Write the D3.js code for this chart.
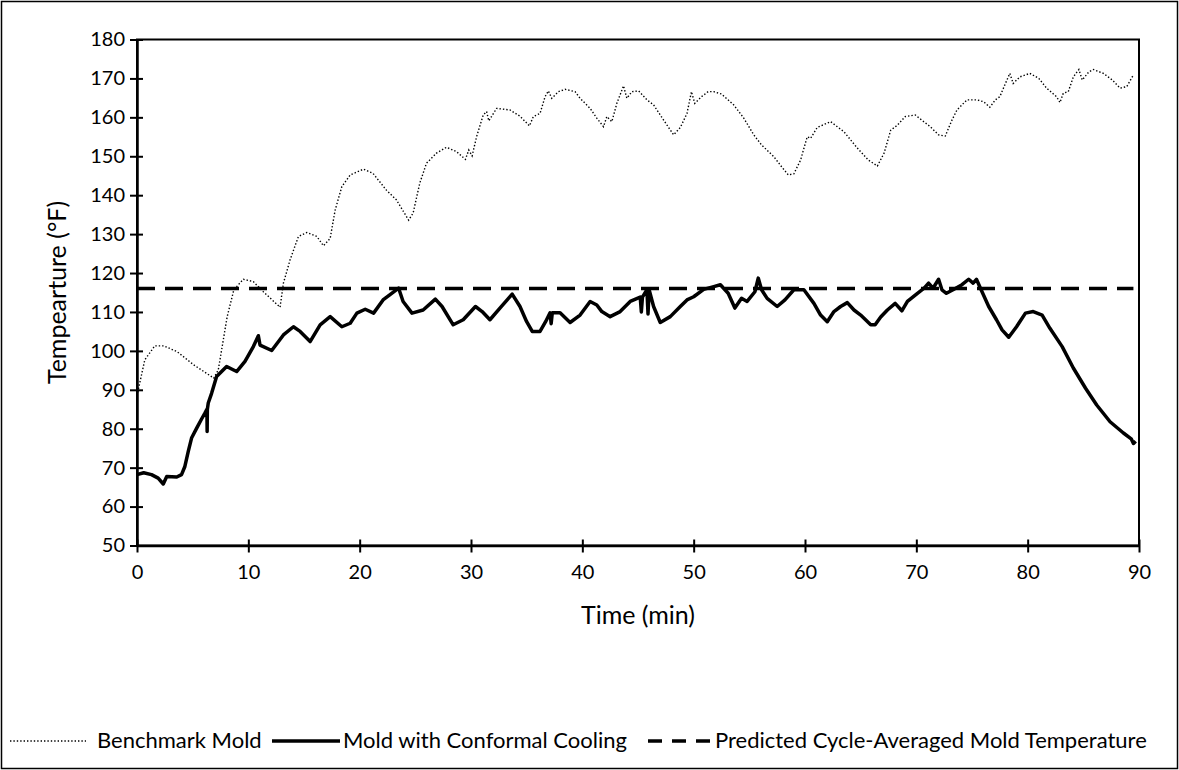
<!DOCTYPE html>
<html lang="en">
  <head>
    <meta charset="utf-8">
    <title>Mold temperature</title>
    <style>
      body { margin: 0; background: #fff; }
      svg text { font-family: Lato, "Open Sans", sans-serif; fill: #000; }
    </style>
  </head>
  <body>
    <svg class="chart"></svg>
    <script src="https://d3js.org/d3.v7.min.js"></script>
    <script>
    // time (min) / temperature (°F)
    const benchTime = [0, 0.7, 1.6, 2.4, 3.6, 5.1, 6.9, 7.3, 8.1, 8.7, 9.55, 10.45, 11.35, 12.85, 13.15, 13.75, 14.5, 15.25, 16.15, 16.75, 17.35, 17.8, 18.4, 19.15, 20.35, 21.2, 22.4, 23.3, 24.4, 24.8, 25.4, 26.0, 26.9, 27.8, 28.7, 29.5, 29.8, 30.1, 30.5, 31.1, 31.4, 31.6, 32.3, 33.5, 34.4, 35.25, 35.6, 36.2, 36.65, 36.95, 37.25, 37.85, 38.45, 39.35, 39.8, 40.7, 41.3, 41.9, 42.2, 42.65, 43.1, 43.7, 44.0, 44.45, 45.05, 45.8, 46.4, 47.3, 48.2, 48.8, 49.4, 49.8, 50.1, 50.7, 51.3, 51.8, 52.5, 53.6, 54.5, 55.4, 56.1, 57.2, 57.9, 58.5, 59.0, 59.6, 60.2, 60.5, 61.1, 62.3, 63.5, 64.7, 65.7, 66.5, 67.1, 67.7, 68.3, 69.0, 69.9, 71.25, 72.0, 72.6, 73.2, 73.65, 74.55, 75.45, 76.05, 76.6, 77.1, 77.5, 78.0, 78.4, 78.7, 79.3, 80.2, 81.0, 81.7, 82.6, 82.9, 83.2, 83.65, 84.1, 84.6, 84.9, 85.5, 85.9, 86.8, 87.6, 88.3, 88.9, 89.5];
    const benchTemp = [88.5, 97.7, 101.3, 101.3, 99.8, 96.4, 93, 95.1, 108.8, 115.7, 118.4, 117.8, 115.2, 111.2, 117.4, 123.4, 129.4, 130.4, 129.4, 127, 128.9, 136.2, 142.2, 145.2, 146.7, 145.6, 141.3, 138.8, 133.6, 135.4, 143.1, 148.2, 150.8, 152.3, 151.2, 149.2, 151.6, 150.1, 155, 160.6, 161.5, 159.1, 162.3, 161.9, 160.3, 157.8, 160.2, 161, 165.3, 166.8, 164.9, 166.6, 167.2, 166.6, 164.9, 162.3, 159.8, 157.6, 160.2, 158.9, 163.6, 168.1, 164.9, 166.6, 166.8, 164.5, 163.2, 159.3, 155.5, 157.4, 161, 166.6, 163.6, 165.3, 166.6, 166.6, 166, 163.2, 159.8, 155.5, 152.9, 149.9, 147.3, 145.2, 145.5, 149, 155, 154.6, 157.4, 158.9, 156.3, 152.1, 149, 147.5, 150.8, 156.7, 158, 160.2, 160.6, 157.6, 155.5, 155.2, 159.3, 161.9, 164.5, 164.5, 164, 162.6, 164.5, 165.3, 168.7, 171.3, 168.7, 170.4, 171.3, 170, 167.5, 165.3, 163.8, 166.2, 166.6, 170.4, 172.3, 169.6, 171.7, 172.3, 171.3, 169.6, 167.5, 167.9, 170.9];

    const coolTime = [0, 0.6, 1.3, 1.9, 2.36, 2.67, 3.57, 4.0, 4.3, 4.6, 4.9, 5.35, 5.8, 6.1, 6.28, 6.3, 6.32, 6.4, 6.7, 7.15, 8.05, 8.95, 9.7, 10.45, 10.9, 11.05, 12.1, 13.15, 14.05, 14.65, 15.55, 16.45, 17.35, 18.4, 19.15, 19.75, 20.5, 21.25, 22.1, 22.7, 23.5, 23.9, 24.7, 25.7, 26.8, 27.4, 28.4, 29.3, 30.4, 31.0, 31.7, 32.6, 33.7, 34.4, 35.0, 35.5, 36.2, 36.7, 37.1, 37.2, 37.3, 38.0, 38.9, 39.8, 40.7, 41.3, 41.75, 42.5, 43.4, 44.3, 45.2, 45.3, 45.4, 45.8, 45.9, 46.0, 46.4, 47.0, 47.9, 48.8, 49.4, 50.0, 50.9, 51.8, 52.4, 53.1, 53.7, 54.3, 54.8, 55.5, 55.8, 56.1, 56.6, 57.5, 58.2, 59.0, 59.9, 60.8, 61.4, 62.0, 62.6, 63.2, 63.8, 64.4, 65.0, 65.9, 66.3, 66.8, 67.4, 68.1, 68.7, 69.2, 70.1, 70.7, 71.1, 71.5, 72.0, 72.3, 72.7, 73.3, 74.1, 74.7, 75.1, 75.4, 75.9, 76.5, 77.2, 77.7, 78.3, 79.0, 79.8, 80.5, 81.3, 82.0, 83.1, 84.1, 85.2, 86.2, 87.4, 88.6, 89.3, 89.5, 89.7];
    const coolTemp = [68.2, 68.7, 68.2, 67.3, 65.8, 67.7, 67.6, 68.2, 70.3, 74.1, 77.6, 80.1, 82.5, 84, 85, 79.3, 85, 86.6, 89.1, 93.4, 96, 94.7, 97.3, 101.1, 103.9, 101.5, 100.1, 104.1, 106.2, 105, 102.4, 106.7, 108.8, 106.2, 107.1, 109.7, 110.7, 109.7, 113.1, 114.4, 116.1, 112.7, 109.7, 110.5, 113.3, 111.4, 106.7, 108, 111.4, 110.1, 108, 111, 114.6, 111.4, 107.5, 105, 105, 107.5, 109.8, 107, 109.8, 109.8, 107.3, 109.2, 112.7, 111.8, 110.1, 108.8, 110.1, 112.7, 113.8, 110, 113.8, 115.7, 109.5, 115.7, 111.4, 107.3, 108.8, 111.4, 113.1, 113.9, 115.8, 116.5, 117, 114.8, 111, 113.5, 112.7, 115.2, 118.7, 115.7, 113.5, 111.4, 113.1, 115.7, 115.7, 112.2, 109.2, 107.5, 110.1, 111.4, 112.4, 110.5, 109.2, 106.7, 106.7, 108.7, 110.5, 112.2, 110.3, 112.7, 114.8, 116.1, 117.4, 116.1, 118.4, 115.7, 114.8, 115.7, 117, 118.4, 117.4, 118.4, 115.2, 111.4, 108, 105.4, 103.5, 106.2, 109.7, 110.1, 109.2, 105.8, 101.1, 95.6, 90.4, 86.1, 81.8, 78.9, 77.4, 76.2, 76.8];

    const predicted = 116;
    const xTicks = [0, 10, 20, 30, 40, 50, 60, 70, 80, 90];
    const yTicks = [50, 60, 70, 80, 90, 100, 110, 120, 130, 140, 150, 160, 170, 180];
    const seriesNames = ["Benchmark Mold", "Mold with Conformal Cooling", "Predicted Cycle-Averaged Mold Temperature"];

    const W = 1179, H = 770;
    const margins = { left: 137, right: 40, top: 39.5, bottom: 224.5 };
    const svg = d3.select(".chart").attr("width", W).attr("height", H);

    // outer frame
    svg.append("rect").attr("x", 1.5).attr("y", 1.5).attr("width", W - 3).attr("height", H - 3)
      .attr("fill", "#fff").attr("stroke", "#000").attr("stroke-width", 1.5);

    const xScale = d3.scaleLinear().domain([0, 90]).range([margins.left, W - margins.right]);
    const yScale = d3.scaleLinear().domain([50, 180]).range([H - margins.bottom, margins.top]);

    // plot border (top and right)
    svg.append("rect")
      .attr("x", xScale(0)).attr("y", yScale(180))
      .attr("width", xScale(90) - xScale(0)).attr("height", yScale(50) - yScale(180))
      .attr("fill", "none").attr("stroke", "#000").attr("stroke-width", 2);

    const xAxis = d3.axisBottom(xScale).tickValues(xTicks).tickSize(0).tickPadding(19);
    const yAxis = d3.axisLeft(yScale).tickValues(yTicks).tickSize(0).tickPadding(12);

    const gx = svg.append("g").attr("id", "x-axis")
      .attr("transform", "translate(0," + yScale(50) + ")").call(xAxis);
    const gy = svg.append("g").attr("id", "y-axis")
      .attr("transform", "translate(" + xScale(0) + ",0)").call(yAxis);
    [gx, gy].forEach(g => {
      g.select(".domain").attr("stroke", "#000").attr("stroke-width", 2.5);
      g.selectAll("text").style("font-size", "20px").style("font-family", "Lato, sans-serif").attr("fill", "#000");
    });
    // ticks crossing the axes
    gx.selectAll(".tick").append("line").attr("y1", -6).attr("y2", 7).attr("stroke", "#000").attr("stroke-width", 2);
    gy.selectAll(".tick").append("line").attr("x1", -7).attr("x2", 6).attr("stroke", "#000").attr("stroke-width", 2);

    svg.append("text").attr("x", (xScale(0) + xScale(90)) / 2).attr("y", 624)
      .attr("text-anchor", "middle").style("font-size", "25px").text("Time (min)");
    svg.append("text")
      .attr("transform", "translate(66," + ((yScale(50) + yScale(180)) / 2) + ") rotate(-90)")
      .attr("text-anchor", "middle").style("font-size", "25px").text("Tempearture (°F)");

    const line = d3.line().x(d => xScale(d[0])).y(d => yScale(d[1]));
    const bench = benchTime.map((t, i) => [t, benchTemp[i]]);
    const cool = coolTime.map((t, i) => [t, coolTemp[i]]);

    svg.append("path").datum(bench).attr("d", line)
      .attr("fill", "none").attr("stroke", "#000").attr("stroke-width", 1.4)
      .attr("stroke-dasharray", "1.4,2");
    svg.append("path").datum([[0, predicted], [89.5, predicted]]).attr("d", line)
      .attr("fill", "none").attr("stroke", "#000").attr("stroke-width", 3.5)
      .attr("stroke-dasharray", "18,10");
    svg.append("path").datum(cool).attr("d", line)
      .attr("fill", "none").attr("stroke", "#000").attr("stroke-width", 3.5)
      .attr("stroke-linejoin", "round");

    // legend
    const legendY = 741;
    const legendItems = [
      { x1: 10, x2: 86, tx: 97, w: 1.4, dash: "1.4,2" },
      { x1: 272, x2: 340, tx: 343, w: 3.5, dash: null },
      { x1: 648, x2: 712, tx: 715, w: 3.5, dash: "14,10" }
    ];
    const legend = svg.append("g").attr("id", "legend");
    legendItems.forEach((d, i) => {
      legend.append("line").attr("x1", d.x1).attr("x2", d.x2).attr("y1", legendY).attr("y2", legendY)
        .attr("stroke", "#000").attr("stroke-width", d.w).attr("stroke-dasharray", d.dash);
      legend.append("text").attr("x", d.tx).attr("y", legendY + 7)
        .style("font-size", "22px").text(seriesNames[i]);
    });
    </script>
  </body>
</html>
